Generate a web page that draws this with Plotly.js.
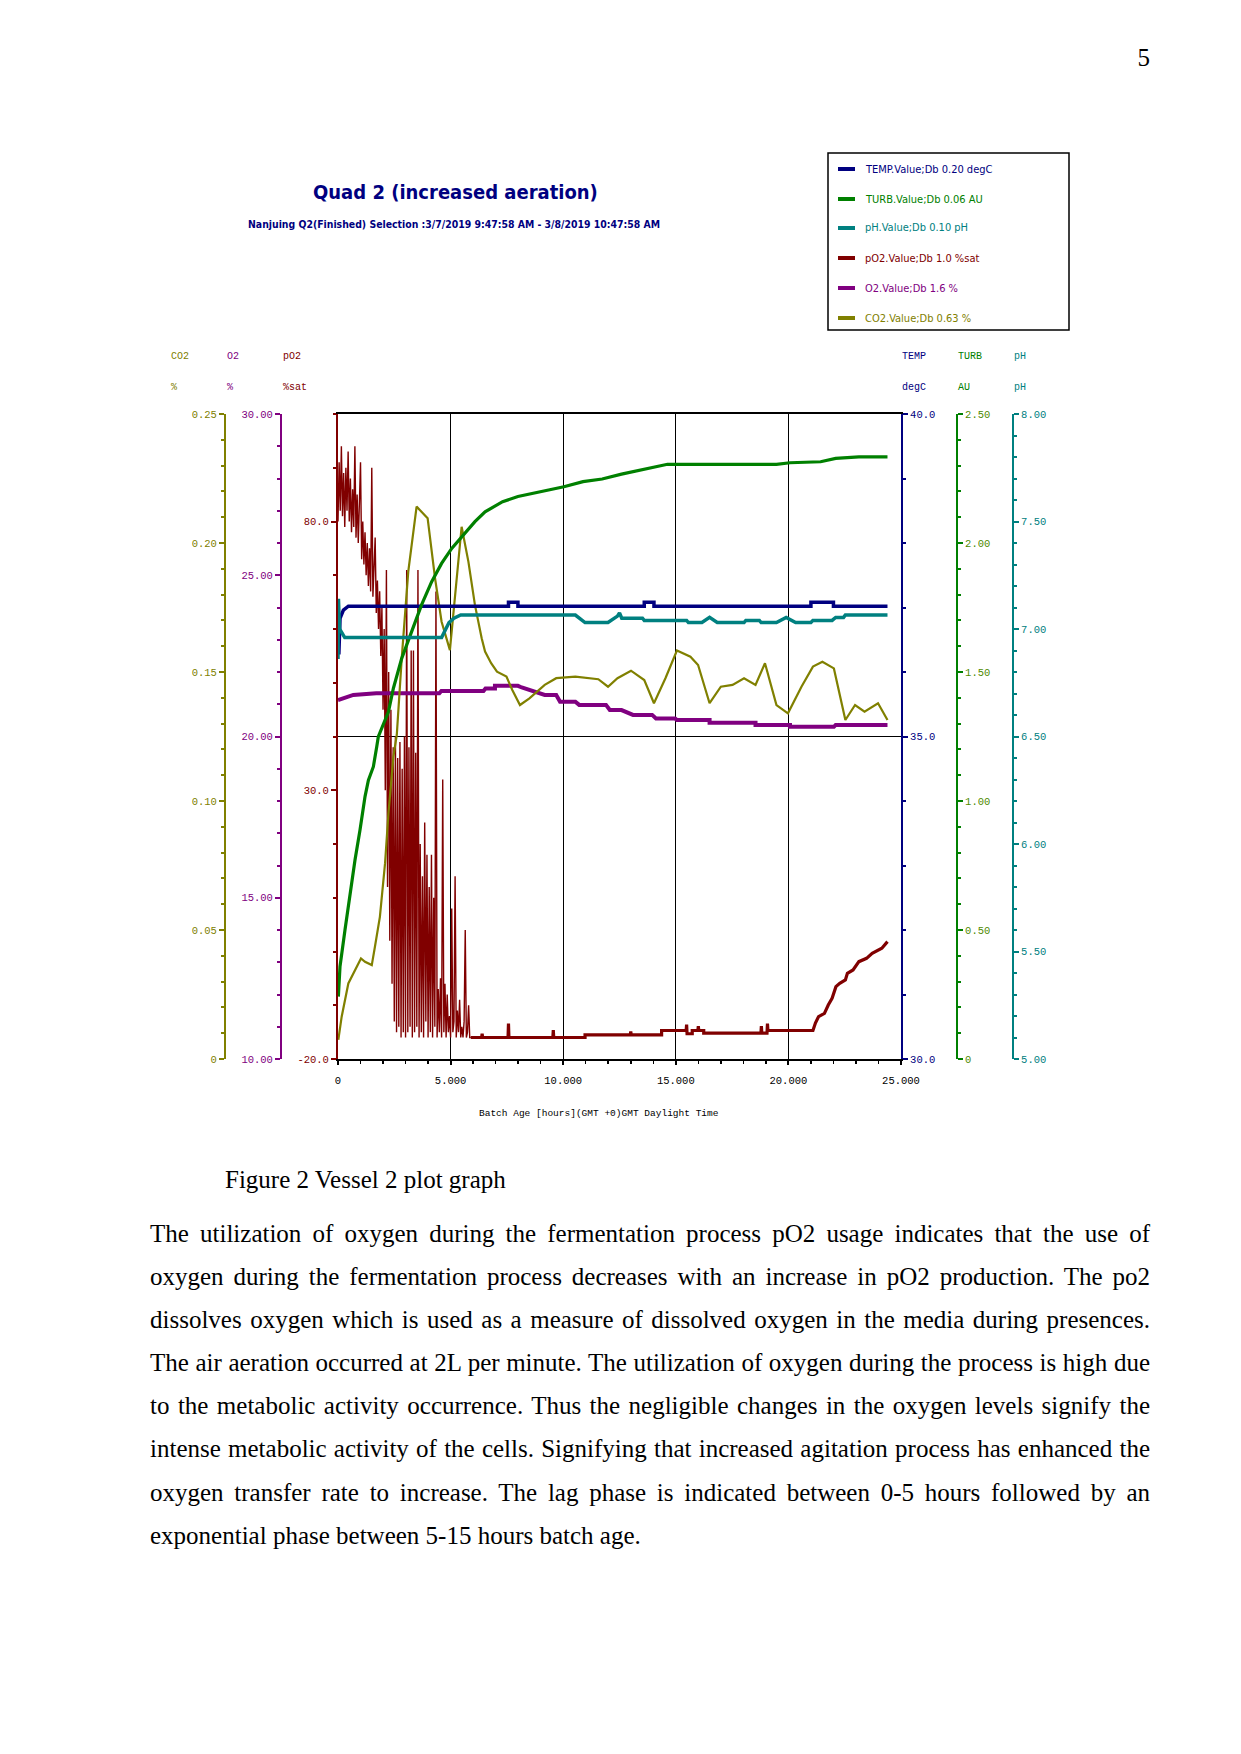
<!DOCTYPE html>
<html>
<head>
<meta charset="utf-8">
<script src="https://cdn.plot.ly/plotly-3.0.1.min.js"></script>
<style>
  html, body { margin:0; padding:0; background:#fff; }
  body { width:1241px; height:1754px; position:relative; overflow:hidden; }
  #plot { position:absolute; left:0; top:0; width:1241px; height:1140px; }
  .serif { position:absolute; font-family:'Liberation Serif','Times New Roman',serif; font-size:25px; color:#000; line-height:43px; height:43px; white-space:nowrap; }
  .just { position:absolute; left:150px; width:1000px; font-family:'Liberation Serif','Times New Roman',serif; font-size:25px; color:#000; line-height:43px; height:43px; text-align:justify; text-align-last:justify; white-space:normal; }
  .last { text-align:left; text-align-last:left; }
</style>
</head>
<body>
<div id="plot"></div>
<div class="serif" style="left:1100px; width:50px; text-align:right; top:36px;">5</div>
<div class="serif" style="left:225px; top:1158px;">Figure 2 Vessel 2 plot graph</div>
<div class="just" style="top:1212px;">The utilization of oxygen during the fermentation process pO2 usage indicates that the use of</div>
<div class="just" style="top:1255px;">oxygen during the fermentation process decreases with an increase in pO2 production. The po2</div>
<div class="just" style="top:1298px;">dissolves oxygen which is used as a measure of dissolved oxygen in the media during presences.</div>
<div class="just" style="top:1341px;">The air aeration occurred at 2L per minute. The utilization of oxygen during the process is high due</div>
<div class="just" style="top:1384px;">to the metabolic activity occurrence. Thus the negligible changes in the oxygen levels signify the</div>
<div class="just" style="top:1427px;">intense metabolic activity of the cells. Signifying that increased agitation process has enhanced the</div>
<div class="just" style="top:1471px;">oxygen transfer rate to increase. The lag phase is indicated between 0-5 hours followed by an</div>
<div class="just last" style="top:1514px;">exponential phase between 5-15 hours batch age.</div>
<script>
// ---------------- DATA ----------------
const chartTitle = 'Quad 2 (increased aeration)';
const chartSubtitle = 'Nanjuing Q2(Finished) Selection :3/7/2019 9:47:58 AM - 3/8/2019 10:47:58 AM';
const xAxisLabel = 'Batch Age [hours](GMT +0)GMT Daylight Time';

const legendLabels = ['TEMP.Value;Db 0.20 degC','TURB.Value;Db 0.06 AU','pH.Value;Db 0.10 pH','pO2.Value;Db 1.0 %sat','O2.Value;Db 1.6 %','CO2.Value;Db 0.63 %'];
const headerNames = ['CO2','O2','pO2','TEMP','TURB','pH'];
const headerUnits = ['%','%','%sat','degC','AU','pH'];

const xTickVals = [0,5,10,15,20,25];
const xTickText = ['0','5.000','10.000','15.000','20.000','25.000'];
const pO2TickVals = [-20,30,80];
const pO2TickText = ['-20.0','30.0','80.0'];
const o2TickVals = [10,15,20,25,30];
const o2TickText = ['10.00','15.00','20.00','25.00','30.00'];
const co2TickVals = [0,0.05,0.10,0.15,0.20,0.25];
const co2TickText = ['0','0.05','0.10','0.15','0.20','0.25'];
const tempTickVals = [30,35,40];
const tempTickText = ['30.0','35.0','40.0'];
const turbTickVals = [0,0.5,1.0,1.5,2.0,2.5];
const turbTickText = ['0','0.50','1.00','1.50','2.00','2.50'];
const phTickVals = [5,5.5,6,6.5,7,7.5,8];
const phTickText = ['5.00','5.50','6.00','6.50','7.00','7.50','8.00'];

// pO2 (%sat) – noisy start phase
const pO2NoiseHours = [0.00,0.05,0.10,0.15,0.20,0.25,0.30,0.35,0.40,0.45,0.50,0.55,0.60,0.65,0.70,0.75,0.80,0.85,0.90,0.95,
  1.00,1.05,1.10,1.15,1.20,1.25,1.30,1.35,1.40,1.45,1.50,1.55,1.60,1.65,1.70,1.75,1.80,1.85,1.90,1.95,
  2.00,2.05,2.10,2.15,2.20,2.25,2.30,2.35,2.40,2.45,2.50,2.55,2.60,2.65,2.70,2.75,2.80,2.85,2.90,2.95,
  3.00,3.05,3.10,3.15,3.20,3.25,3.30,3.35,3.40,3.45,3.50,3.55,3.60,3.65,3.70,3.75,3.80,3.85,3.90,3.95,
  4.00,4.05,4.10,4.15,4.20,4.25,4.30,4.35,4.40,4.45,4.50,4.55,4.60,4.65,4.70,4.75,4.80,4.85,4.90,4.95,
  5.00,5.05,5.10,5.15,5.20,5.25,5.30,5.35,5.40,5.45,5.50,5.55,5.60,5.65,5.70,5.75,5.80,5.85,5.90];
const pO2Noise = [80,91,82,94,81,89,79,90,82,93,80,88,78,86,79,94,77,85,76,83,
  91,73,80,72,78,70,76,68,75,67,90,66,72,77,63,69,60,67,55,64,
  45,60,30,71,12,52,2,45,-6,38,-13,40,-15,36,-14,39,-16,34,-15,40,
  -16,71,-15,38,-14,56,-16,56,-15,37,-14,71,-16,20,-15,14,-16,24,-13,18,
  -16,12,-15,18,-16,10,-14,67,-16,-7,-15,-5,-16,32,-15,-6,-16,-8,-15,-12,
  -16,8,-15,-13,14,-16,-11,-15,-9,-16,-14,-16,-13,4,-16,-15,-10,-16,-16];
// pO2 – settled phase and final rise
const pO2FlatHours = [5.90,6.38,6.40,6.42,7.55,7.57,7.59,9.54,9.56,9.58,10.97,10.97,12.98,13.00,13.02,14.37,14.37,15.46,15.48,15.50,
  15.73,15.73,15.98,16.00,16.02,16.24,16.24,18.78,18.80,18.82,19.05,19.07,19.09,21.09,21.20,21.34,21.60,21.77,21.94,22.11,
  22.28,22.53,22.62,22.87,23.13,23.47,23.72,24.15,24.40];
const pO2Flat = [-16.0,-16.0,-15.3,-16.0,-16.0,-13.4,-16.0,-16.0,-14.6,-16.0,-16.0,-15.5,-15.5,-14.9,-15.5,-15.5,-14.7,-14.7,-13.6,-15.3,
  -15.3,-14.7,-14.7,-13.9,-14.7,-14.7,-15.2,-15.2,-13.9,-15.2,-15.2,-13.4,-14.7,-14.7,-13.3,-12.1,-11.5,-9.95,-8.71,-6.54,
  -5.92,-5.3,-4.06,-3.44,-1.89,-1.27,-0.33,0.6,1.83];

// O2 (%)
const o2Hours = [0,0.68,1.70,4.50,4.59,6.46,6.55,6.97,6.97,7.99,8.16,8.50,9.18,9.69,9.86,10.54,10.71,11.90,12.07,12.59,
  13.10,13.95,14.12,14.97,15.05,16.50,16.50,18.54,18.54,20.07,20.07,22.02,22.10,24.40];
const o2Values = [21.13,21.29,21.34,21.34,21.41,21.41,21.49,21.49,21.57,21.57,21.52,21.44,21.29,21.29,21.08,21.08,20.98,20.98,20.82,20.82,
  20.67,20.67,20.56,20.56,20.51,20.51,20.43,20.43,20.36,20.36,20.30,20.30,20.36,20.36];

// CO2 (%)
const co2Hours = [0.015,0.163,0.459,0.755,1.02,1.2,1.5,1.64,1.86,2.09,2.24,2.46,2.61,2.83,3.12,3.49,3.71,3.98,4.31,4.6,
  4.97,5.22,5.49,5.79,6.08,6.38,6.53,6.8,7.06,7.48,7.74,8.08,8.5,9.18,9.69,10.54,11.56,11.99,12.41,13.01,
  13.6,14.03,14.54,15.05,15.65,15.99,16.5,17.0,17.52,18.03,18.54,18.96,19.47,19.98,20.58,21.09,21.51,22.02,22.53,22.96,
  23.38,23.98,24.4];
const co2Values = [0.0074,0.0164,0.0293,0.0345,0.039,0.0377,0.0364,0.0435,0.0551,0.0759,0.0952,0.1172,0.1256,0.1553,0.1889,0.2141,0.2121,0.2096,0.1863,0.1695,
  0.1585,0.1811,0.2063,0.1928,0.176,0.1631,0.1579,0.1534,0.1501,0.1482,0.143,0.1372,0.1398,0.145,0.1476,0.1482,0.1472,0.1443,0.1476,0.1505,
  0.1469,0.1379,0.1476,0.1583,0.1559,0.1527,0.1379,0.1443,0.145,0.1476,0.145,0.1534,0.1372,0.134,0.1443,0.1521,0.154,0.1514,0.1314,0.1372,
  0.1346,0.1379,0.1314];

// pH
const phHours = [0,0.02,0.07,0.30,4.60,4.93,5.15,5.45,10.54,10.70,10.97,11.99,12.41,12.50,12.60,12.84,13.52,13.60,15.48,15.56,
  16.16,16.50,16.84,18.03,18.11,18.71,18.79,19.47,19.90,20.32,21.00,21.09,21.94,22.10,22.45,22.53,24.40];
const phValues = [6.86,7.14,7.00,6.96,6.96,7.03,7.05,7.065,7.065,7.05,7.03,7.03,7.06,7.075,7.05,7.05,7.05,7.04,7.04,7.03,
  7.03,7.054,7.03,7.03,7.04,7.04,7.03,7.03,7.054,7.03,7.03,7.04,7.04,7.054,7.054,7.065,7.065];

// TURB (AU)
const turbHours = [0.015,0.089,0.31,0.53,0.755,0.977,1.2,1.35,1.57,1.72,1.79,2.24,2.46,2.83,3.27,3.71,4.16,4.6,5.05,5.49,
  6.08,6.53,7.31,7.99,9.01,10.03,10.88,11.73,12.59,13.6,14.63,19.47,20.07,21.43,22.1,23.13,24.4];
const turbValues = [0.242,0.358,0.5,0.642,0.771,0.888,1.017,1.081,1.133,1.21,1.249,1.346,1.437,1.553,1.656,1.76,1.85,1.921,1.979,2.024,
  2.083,2.121,2.16,2.18,2.199,2.218,2.238,2.248,2.267,2.286,2.305,2.305,2.311,2.315,2.328,2.334,2.334];

// TEMP (degC)
const tempHours = [0,0.04,0.09,0.24,0.46,7.57,7.57,7.99,7.99,13.60,13.60,14.03,14.03,21.00,21.00,22.00,22.00,24.40];
const tempValues = [36.3,36.3,36.83,36.96,37.02,37.02,37.08,37.08,37.02,37.02,37.08,37.08,37.02,37.02,37.08,37.08,37.02,37.02];

// ---------------- STYLE / LAYOUT ----------------
const C = { navy:'#000080', green:'#008000', teal:'#008080', maroon:'#800000', purple:'#800080', olive:'#808000', turbLbl:'#4f8a00' };
const W = 1241, H = 1140;
const px = v => v / W;
const py = v => 1 - v / H;
const MONO = 'Liberation Mono, DejaVu Sans Mono, monospace';
const NARROW = 'Liberation Sans Narrow, DejaVu Sans Condensed, Liberation Mono';

const traces = [
  { x:pO2NoiseHours, y:pO2Noise, yaxis:'y', mode:'lines', line:{color:C.maroon, width:1.4}, name:legendLabels[3] },
  { x:pO2FlatHours, y:pO2Flat, yaxis:'y', mode:'lines', line:{color:C.maroon, width:3.2}, name:legendLabels[3] },
  { x:co2Hours, y:co2Values, yaxis:'y3', mode:'lines', line:{color:C.olive, width:2.2}, name:legendLabels[5] },
  { x:o2Hours, y:o2Values, yaxis:'y2', mode:'lines', line:{color:C.purple, width:4}, name:legendLabels[4] },
  { x:phHours, y:phValues, yaxis:'y6', mode:'lines', line:{color:C.teal, width:3.5}, name:legendLabels[2] },
  { x:turbHours, y:turbValues, yaxis:'y5', mode:'lines', line:{color:C.green, width:3.2}, name:legendLabels[1] },
  { x:tempHours, y:tempValues, yaxis:'y4', mode:'lines', line:{color:C.navy, width:3.5}, name:legendLabels[0] }
];

function yAxis(o) {
  return Object.assign({
    showline:true, linewidth:2, ticks:'outside', ticklen:5, tickwidth:2,
    tickmode:'array', showgrid:false, zeroline:false, fixedrange:true,
    minor:{ ticks:'outside', ticklen:3, tickwidth:2, showgrid:false }
  }, o);
}

const yDomain = [py(1059), py(414)];

const layout = {
  width:W, height:H,
  margin:{l:0, r:0, t:0, b:0},
  paper_bgcolor:'#ffffff', plot_bgcolor:'#ffffff',
  showlegend:false,
  font:{family:MONO, size:10, color:'#000'},
  xaxis:{
    domain:[px(338), px(901)], range:[0,25], fixedrange:true,
    tickmode:'array', tickvals:xTickVals, ticktext:xTickText,
    tickfont:{family:MONO, size:10.5, color:'#000'},
    showgrid:true, gridcolor:'#000', gridwidth:1,
    showline:true, linecolor:'#000', linewidth:2, mirror:true,
    ticks:'outside', ticklen:4, tickwidth:2, tickcolor:'#000',
    ticklabelstandoff:6, zeroline:false,
    minor:{ dtick:1, tick0:0, ticks:'outside', ticklen:3, tickwidth:1.5, tickcolor:'#000', showgrid:false }
  },
  yaxis: yAxis({ domain:yDomain, range:[-20,100], anchor:'x', side:'left',
    tickvals:pO2TickVals, ticktext:pO2TickText, linecolor:C.maroon, tickcolor:C.maroon,
    tickfont:{family:MONO, size:10.5, color:C.maroon},
    minor:{ dtick:10, tick0:-20, ticks:'outside', ticklen:3, tickwidth:2, tickcolor:C.maroon, showgrid:false } }),
  yaxis2: yAxis({ overlaying:'y', range:[10,30], anchor:'free', position:px(281), side:'left',
    tickvals:o2TickVals, ticktext:o2TickText, linecolor:C.purple, tickcolor:C.purple,
    tickfont:{family:MONO, size:10.5, color:C.purple},
    minor:{ dtick:1, tick0:10, ticks:'outside', ticklen:3, tickwidth:2, tickcolor:C.purple, showgrid:false } }),
  yaxis3: yAxis({ overlaying:'y', range:[0,0.25], anchor:'free', position:px(225), side:'left',
    tickvals:co2TickVals, ticktext:co2TickText, linecolor:C.olive, tickcolor:C.olive,
    tickfont:{family:MONO, size:10.5, color:C.olive},
    minor:{ dtick:0.01, tick0:0, ticks:'outside', ticklen:3, tickwidth:2, tickcolor:C.olive, showgrid:false } }),
  yaxis4: yAxis({ overlaying:'y', range:[30,40], anchor:'x', side:'right',
    tickvals:tempTickVals, ticktext:tempTickText, linecolor:C.navy, tickcolor:C.navy,
    showgrid:true, gridcolor:'#000', gridwidth:1.5,
    tickfont:{family:MONO, size:10.5, color:C.navy},
    minor:{ dtick:1, tick0:30, ticks:'outside', ticklen:3, tickwidth:2, tickcolor:C.navy, showgrid:false } }),
  yaxis5: yAxis({ overlaying:'y', range:[0,2.5], anchor:'free', position:px(957), side:'right',
    tickvals:turbTickVals, ticktext:turbTickText, linecolor:C.green, tickcolor:C.green,
    tickfont:{family:MONO, size:10.5, color:C.turbLbl},
    minor:{ dtick:0.1, tick0:0, ticks:'outside', ticklen:3, tickwidth:2, tickcolor:C.green, showgrid:false } }),
  yaxis6: yAxis({ overlaying:'y', range:[5,8], anchor:'free', position:px(1013), side:'right',
    tickvals:phTickVals, ticktext:phTickText, linecolor:C.teal, tickcolor:C.teal,
    tickfont:{family:MONO, size:10.5, color:C.teal},
    minor:{ dtick:0.1, tick0:5, ticks:'outside', ticklen:3, tickwidth:2, tickcolor:C.teal, showgrid:false } }),
  annotations:[], shapes:[]
};

function ann(text, x, y, opts) {
  layout.annotations.push(Object.assign({
    text:text, x:px(x), y:py(y), xref:'paper', yref:'paper', showarrow:false,
    xanchor:'left', yanchor:'middle', font:{family:MONO, size:10, color:'#000'}
  }, opts || {}));
}

// Title and subtitle
ann('<b>' + chartTitle + '</b>', 455, 192, {xanchor:'center', font:{family:NARROW, size:20, color:C.navy}});
ann('<b>' + chartSubtitle + '</b>', 454, 224, {xanchor:'center', font:{family:NARROW, size:10.4, color:C.navy}});

// Axis headers (name + unit)
const headerX = [169, 225, 281, 900, 956, 1012];
const headerColors = [C.olive, C.purple, C.maroon, C.navy, C.green, C.teal];
headerNames.forEach((h, i) => {
  ann(h, headerX[i], 357, {font:{family:MONO, size:10, color:headerColors[i]}});
  ann(headerUnits[i], headerX[i], 388, {font:{family:MONO, size:10, color:headerColors[i]}});
});

// X axis label
ann(xAxisLabel, 599, 1113, {xanchor:'center', font:{family:MONO, size:9.5, color:'#000'}});

// Legend box
layout.shapes.push({type:'rect', xref:'paper', yref:'paper', x0:px(828), x1:px(1069), y0:py(330), y1:py(153),
  line:{color:'#000', width:1.5}, fillcolor:'rgba(0,0,0,0)'});
const legendColors = [C.navy, C.green, C.teal, C.maroon, C.purple, C.olive];
const legendY = [169, 199, 228, 258, 288, 318];
legendLabels.forEach((lab, i) => {
  layout.shapes.push({type:'line', xref:'paper', yref:'paper', x0:px(838), x1:px(855), y0:py(legendY[i]), y1:py(legendY[i]),
    line:{color:legendColors[i], width:4}});
  ann(lab, 863, legendY[i], {font:{family:NARROW, size:11, color:legendColors[i]}});
});

Plotly.newPlot('plot', traces, layout, {displayModeBar:false, staticPlot:true});
</script>
</body>
</html>
